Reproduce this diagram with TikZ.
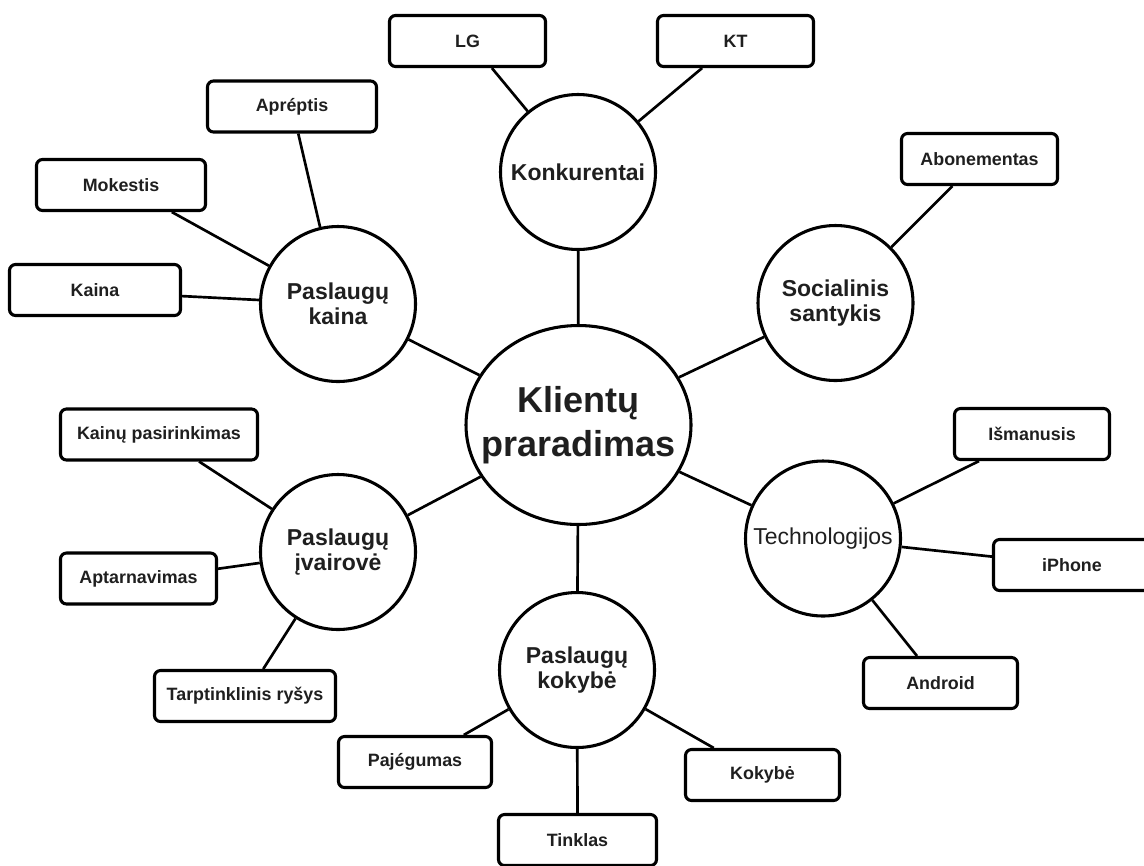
\documentclass[tikz,border=0pt]{standalone}
\usepackage{fontspec}
\setmainfont{Liberation Sans}
\usetikzlibrary{shapes.geometric}
\begin{document}
\begin{tikzpicture}[x=0.75pt,y=-0.75pt,
  lw/.style={line width=2.3pt},
  box/.style={draw, lw, rounded corners=4.5pt, minimum height=38.25pt, inner sep=0pt,
    text=black!88, font=\fontsize{13.4}{15}\selectfont\bfseries},
  bw/.style={minimum width={(#1-3)*0.75pt}},
  sat/.style={draw, lw, circle, minimum size=116.25pt, inner sep=0pt, align=center,
    text=black!88, font=\fontsize{17.25}{18.75}\selectfont\bfseries},
  hub/.style={draw, lw, ellipse, minimum width=168.75pt, minimum height=149.25pt,
    inner xsep=-16pt, inner ysep=0pt,
    align=center, text=black!88, font=\fontsize{27}{33}\selectfont\bfseries},
  link/.style={line width=2pt}]
\useasboundingbox (0,0) rectangle (1144,865);
\fill[white] (0,0) rectangle (1144,865);
\clip (0,0) rectangle (1144,865);

% central and satellite nodes
\node[hub] (c) at (578.5,425) {Klientų\\praradimas};
\node[sat] (konk) at (578,172) {Konkurentai};
\node[sat] (soc) at (835.5,303) {Socialinis\\santykis};
\node[sat] (kaina) at (338,304) {Paslaugų\\kaina};
\node[sat] (ivair) at (338,552) {Paslaugų\\įvairovė};
\node[sat, font=\fontsize{17.25}{18.75}\selectfont] (tech) at (823,538.5) {Technologijos};
\node[sat] (kok) at (577,670) {Paslaugų\\kokybė};

% leaf boxes
\node[box, bw=159] (lg) at (467.5,41) {LG};
\node[box, bw=159] (kt) at (735.5,41) {KT};
\node[box, bw=172] (apr) at (292,106.5) {Apréptis};
\node[box, bw=172] (mok) at (121,185) {Mokestis};
\node[box, bw=174] (kai) at (95,290) {Kaina};
\node[box, bw=159] (abo) at (979.5,159) {Abonementas};
\node[box, bw=200] (kps) at (159,434.5) {Kainų pasirinkimas};
\node[box, bw=159] (apt) at (138.5,578.5) {Aptarnavimas};
\node[box, bw=184] (tar) at (245,696) {Tarptinklinis ryšys};
\node[box, bw=158] (ism) at (1032,434) {Išmanusis};
\node[box, bw=160] (iph) at (1072,565) {iPhone};
\node[box, bw=157] (and) at (940.5,683) {Android};
\node[box, bw=156] (paj) at (415,762) {Pajégumas};
\node[box, bw=157] (kky) at (762.5,775) {Kokybė};
\node[box, bw=161] (tin) at (577.5,840) {Tinklas};

% hub connectors
\draw[link] (c) -- (konk);
\draw[link] (c) -- (soc);
\draw[link] (c) -- (kaina);
\draw[link] (c) -- (ivair);
\draw[link] (c) -- (tech);
\draw[link] (c) -- (kok);

% leaf connectors
\draw[link] (konk) -- (lg.-48);
\draw[link] (konk) -- (kt.-141);
\draw[link] (kaina) -- (apr.-77.5);
\draw[link] (kaina) -- (mok.-28);
\draw[link] (kaina) -- (kai.-4);
\draw[link] (soc) -- (abo.-135.5);
\draw[link] (ivair) -- (kps.-34);
\draw[link] (ivair) -- (apt.7.5);
\draw[link] (ivair) -- (tar.56);
\draw[link] (tech) -- (ism.-153.4);
\draw[link] (tech) -- (iph.174.3);
\draw[link] (tech) -- (and.131);
\draw[link] (kok) -- (paj.29.4);
\draw[link] (kok) -- (kky.151.4);
\draw[link] (kok) -- (tin.90);
\end{tikzpicture}
\end{document}
